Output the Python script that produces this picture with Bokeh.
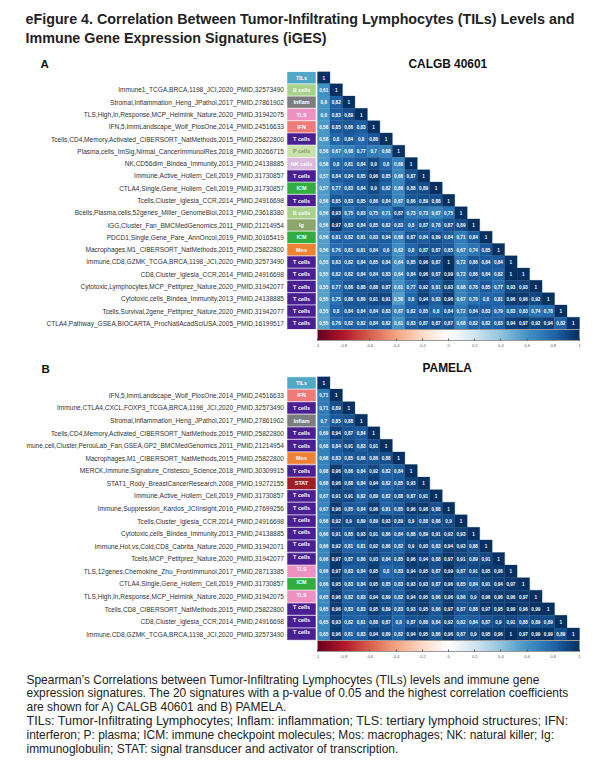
from bokeh.plotting import figure
from bokeh.models import (ColumnDataSource, FactorRange, Range1d, LinearColorMapper, ColorBar,
                          FixedTicker)
from bokeh.layouts import column
from bokeh.core.properties import value
from bokeh.embed import file_html
from bokeh.resources import INLINE

TITLE_LINES = ["eFigure 4. Correlation Between Tumor-Infiltrating Lymphocytes (TILs) Levels and",
               "Immune Gene Expression Signatures (iGES)"]
CAPTION_LINES = [
    "Spearman\u2019s Correlations between Tumor-Infiltrating Lymphocytes (TILs) levels and immune gene",
    "expression signatures. The 20 signatures with a p-value of 0.05 and the highest correlation coefficients",
    "are shown for A) CALGB 40601 and B) PAMELA.",
    "TILs: Tumor-Infiltrating Lymphocytes; Inflam: inflammation; TLS: tertiary lymphoid structures; IFN:",
    "interferon; P: plasma; ICM: immune checkpoint molecules; Mos: macrophages; NK: natural killer; Ig:",
    "immunoglobulin; STAT: signal transducer and activator of transcription.",
]
CAPTION_SIZES = ["11.95px", "11.95px", "11.95px", "12.6px", "11.95px", "11.95px"]

A_LABELS = ["",
    "Immune1_TCGA,BRCA,1198_JCI,2020_PMID,32573490",
    "Stromal,Inflammation_Heng_JPathol,2017_PMID,27861902",
    "TLS,High,In,Response,MCP_Helmink_Nature,2020_PMID,31942075",
    "IFN,5,ImmLandscape_Wolf_PlosOne,2014_PMID,24516633",
    "Tcells,CD4,Memory,Activated_CIBERSORT_NatMethods,2015_PMID,25822800",
    "Plasma,cells_ImSig,Nirmal_CancerImmunolRes,2018_PMID,30266715",
    "NK,CD56dim_Bindea_Immunity,2013_PMID,24138885",
    "Immune,Active_Hollern_Cell,2019_PMID,31730857",
    "CTLA4,Single,Gene_Hollern_Cell,2019_PMID,31730857",
    "Tcells,Cluster_Iglesia_CCR,2014_PMID,24916698",
    "Bcells,Plasma,cells,52genes_Miller_GenomeBiol,2013_PMID,23618380",
    "IGG,Cluster_Fan_BMCMedGenomics,2011_PMID,21214954",
    "PDCD1,Single,Gene_Pare_AnnOncol,2019_PMID,30165419",
    "Macrophages,M1_CIBERSORT_NatMethods,2015_PMID,25822800",
    "Immune,CD8,GZMK_TCGA,BRCA,1198_JCI,2020_PMID,32573490",
    "CD8,Cluster_Iglesia_CCR,2014_PMID,24916698",
    "Cytotoxic,Lymphocytes,MCP_Petitprez_Nature,2020_PMID,31942077",
    "Cytotoxic,cells_Bindea_Immunity,2013_PMID,24138885",
    "Tcells,Survival,2gene_Petitprez_Nature,2020_PMID,31942077",
    "CTLA4,Pathway_GSEA,BIOCARTA_ProcNatlAcadSciUSA,2005_PMID,16199517"]
A_GROUPS = ["TILs", "B cells", "Inflam", "TLS", "IFN", "T cells", "P cells", "NK cells", "T cells", "ICM",
            "T cells", "B cells", "Ig", "ICM", "Mos", "T cells", "T cells", "T cells", "T cells", "T cells", "T cells"]
A_VALUES = [
    [1],
    [.61, 1],
    [.6, .82, 1],
    [.6, .83, .89, 1],
    [.58, .85, .86, .83, 1],
    [.58, .8, .84, .8, .86, 1],
    [.58, .67, .68, .77, .7, .68, 1],
    [.58, .8, .81, .84, .9, .8, .68, 1],
    [.57, .84, .84, .85, .96, .85, .66, .87, 1],
    [.57, .77, .83, .84, .9, .82, .66, .88, .89, 1],
    [.56, .85, .83, .85, .86, .84, .67, .86, .89, .88, 1],
    [.56, .93, .75, .83, .75, .71, .87, .73, .73, .67, .75, 1],
    [.56, .97, .83, .84, .85, .82, .83, .8, .87, .78, .87, .89, 1],
    [.56, .81, .82, .81, .83, .84, .68, .87, .84, .89, .84, .71, .84, 1],
    [.56, .76, .81, .81, .84, .8, .62, .8, .87, .87, .85, .67, .74, .85, 1],
    [.55, .83, .82, .84, .85, .84, .64, .85, .96, .87, 1, .72, .86, .84, .84, 1],
    [.55, .82, .82, .84, .84, .83, .64, .84, .96, .87, .99, .72, .86, .84, .82, 1, 1],
    [.55, .77, .86, .88, .88, .87, .61, .77, .92, .81, .93, .68, .78, .85, .77, .93, .93, 1],
    [.55, .75, .86, .86, .91, .91, .56, .8, .94, .83, .96, .67, .76, .8, .81, .96, .96, .92, 1],
    [.55, .8, .84, .84, .84, .83, .67, .82, .85, .8, .84, .72, .84, .83, .79, .83, .83, .74, .78, 1],
    [.55, .76, .82, .82, .84, .82, .61, .83, .87, .87, .87, .68, .82, .82, .83, .94, .97, .92, .94, .82, 1],
]

B_LABELS = ["",
    "IFN,5,ImmLandscape_Wolf_PlosOne,2014_PMID,24516633",
    "Immune,CTLA4,CXCL,FOXP3_TCGA,BRCA,1198_JCI,2020_PMID,32573490",
    "Stromal,Inflammation_Heng_JPathol,2017_PMID,27861902",
    "Tcells,CD4,Memory,Activated_CIBERSORT_NatMethods,2015_PMID,25822800",
    "mune,cell,Cluster,PerouLab_Fan,GSEA,GP2_BMCMedGenomics,2011_PMID,21214954",
    "Macrophages,M1_CIBERSORT_NatMethods,2015_PMID,25822800",
    "MERCK,Immune,Signature_Cristescu_Science,2018_PMID,30309915",
    "STAT1_Rody_BreastCancerResearch,2008_PMID,19272155",
    "Immune,Active_Hollern_Cell,2019_PMID,31730857",
    "Immune,Suppression_Kardos_JCIInsight,2016_PMID,27699256",
    "Tcells,Cluster_Iglesia_CCR,2014_PMID,24916698",
    "Cytotoxic,cells_Bindea_Immunity,2013_PMID,24138885",
    "Immune,Hot,vs,Cold,CD8_Cabrita_Nature,2020_PMID,31942071",
    "Tcells,MCP_Petitprez_Nature,2020_PMID,31942077",
    "TLS,12genes,Chemokine_Zhu_FrontImmunol,2017_PMID,28713385",
    "CTLA4,Single,Gene_Hollern_Cell,2019_PMID,31730857",
    "TLS,High,In,Response,MCP_Helmink_Nature,2020_PMID,31942075",
    "Tcells,CD8_CIBERSORT_NatMethods,2015_PMID,25822800",
    "CD8,Cluster_Iglesia_CCR,2014_PMID,24916698",
    "Immune,CD8,GZMK_TCGA,BRCA,1198_JCI,2020_PMID,32573490"]
B_GROUPS = ["TILs", "IFN", "T cells", "Inflam", "T cells", "T cells", "Mos", "T cells", "STAT", "T cells", "T cells",
            "T cells", "T cells", "T cells", "T cells", "TLS", "ICM", "TLS", "T cells", "T cells", "T cells"]
B_VALUES = [
    [1],
    [.71, 1],
    [.71, .89, 1],
    [.7, .85, .88, 1],
    [.69, .94, .87, .84, 1],
    [.68, .84, .91, .83, .91, 1],
    [.68, .83, .85, .86, .86, .88, 1],
    [.68, .96, .86, .84, .92, .82, .84, 1],
    [.68, .96, .88, .84, .94, .82, .85, .93, 1],
    [.67, .91, .91, .82, .89, .82, .88, .87, .91, 1],
    [.67, .96, .85, .84, .96, .81, .85, .96, .96, .88, 1],
    [.66, .92, .9, .89, .89, .93, .89, .9, .88, .88, .9, 1],
    [.66, .91, .85, .93, .91, .86, .84, .88, .89, .91, .92, .93, 1],
    [.66, .92, .81, .81, .92, .86, .82, .9, .93, .83, .94, .93, .88, 1],
    [.66, .97, .87, .86, .93, .84, .85, .96, .94, .88, .97, .91, .89, .91, 1],
    [.66, .97, .83, .84, .95, .8, .83, .94, .95, .87, .99, .87, .91, .95, .96, 1],
    [.66, .95, .83, .84, .95, .85, .83, .93, .93, .87, .96, .85, .84, .91, .94, .97, 1],
    [.65, .96, .82, .83, .94, .89, .82, .94, .95, .86, .96, .86, .9, .96, .96, .96, .97, 1],
    [.65, .96, .83, .83, .95, .89, .83, .93, .95, .86, .97, .87, .88, .97, .95, .99, .96, .99, 1],
    [.65, .93, .82, .81, .88, .87, .8, .87, .88, .84, .92, .82, .84, .87, .9, .91, .88, .89, .89, 1],
    [.65, .96, .81, .83, .94, .89, .82, .94, .95, .86, .96, .87, .9, .95, .96, 1, .97, .99, .99, .89, 1],
]

GROUP_FILL = {"TILs": "#4fa8c6", "B cells": "#a8d28c", "Inflam": "#7d7d7d", "TLS": "#ee90c2", "IFN": "#f07a78",
              "T cells": "#4a1f92", "P cells": "#c8e3a8", "NK cells": "#dcb9de", "ICM": "#2fae3e", "Ig": "#8ca66c",
              "Mos": "#ef8333", "STAT": "#a01d26"}
GROUP_TEXT = {"P cells": "#7f9c66"}

CB_TICKS = [-1, -.8, -.6, -.4, -.2, 0, .2, .4, .6, .8, 1]
ANCHORS = ["#67001F", "#B2182B", "#D6604D", "#F4A582", "#FDDBC7", "#FFFFFF",
           "#D1E5F0", "#92C5DE", "#4393C3", "#2166AC", "#053061"]

FIG_W = 596
HEAT_LEFT = 317
CELLS_W = 262


def build_palette(anchors, n=201):
    rgb = [tuple(int(c[i:i + 2], 16) for i in (1, 3, 5)) for c in anchors]
    out = []
    for k in range(n):
        t = k / (n - 1) * (len(rgb) - 1)
        i = min(int(t), len(rgb) - 2)
        f = t - i
        out.append("#%02x%02x%02x" % tuple(round(rgb[i][j] * (1 - f) + rgb[i + 1][j] * f) for j in range(3)))
    return out


PALETTE = build_palette(ANCHORS)
mapper = LinearColorMapper(palette=PALETTE, low=-1, high=1)


def fmt(v):
    return ("%g" % v).replace(".", ",")


def band(height):
    """A text-only strip whose data coordinates run in pixels from its top-left corner."""
    p = figure(width=FIG_W, height=height, output_backend="svg", toolbar_location=None,
               x_range=Range1d(0, FIG_W), y_range=Range1d(height, 0),
               min_border=0, x_axis_location=None, y_axis_location=None)
    p.outline_line_color = None
    p.grid.visible = False
    return p


def put(p, x, y, text, size, bold=False, color="#222222"):
    p.text(x=[x], y=[y], text=[text], text_font=value("Liberation Sans"), text_font_size=size,
           text_font_style="bold" if bold else "normal", text_color=color, text_baseline="middle")


def panel(labels, groups, values, height, frame_h, box_text_shift):
    factors = [(lab if lab else " ") for lab in labels]
    n = len(factors)
    cell_w = CELLS_W / n
    p = figure(width=FIG_W, height=height, output_backend="svg", toolbar_location=None,
               x_range=Range1d(-HEAT_LEFT / cell_w, (FIG_W - HEAT_LEFT) / cell_w),
               y_range=FactorRange(factors=factors[::-1], range_padding=0),
               min_border_left=0, min_border_right=0, min_border_top=0,
               min_border_bottom=height - frame_h, x_axis_location=None, y_axis_location=None)
    p.outline_line_color = None
    p.grid.visible = False

    rows = ColumnDataSource(dict(x=[-33.5 / cell_w] * n, y=factors, t=labels))
    p.text("x", "y", text="t", source=rows, text_color="#333333", text_font=value("Liberation Sans"),
           text_font_size="6.55px", text_align="right", text_baseline="middle")

    xs, ys, vs, ts = [], [], [], []
    for r, row in enumerate(values):
        for c, v in enumerate(row):
            xs.append(c + .5)
            ys.append(factors[r])
            vs.append(v)
            ts.append(fmt(v))
    src = ColumnDataSource(dict(x=xs, y=ys, v=vs, t=ts))
    fill = {"field": "v", "transform": mapper}
    p.rect("x", "y", width=1, height=1, source=src, fill_color=fill, line_color=fill, line_width=.3)
    p.text("x", "y", text="t", source=src, text_color="white", text_font=value("Liberation Sans"),
           text_font_style="bold", text_font_size="4.6px", text_align="center", text_baseline="middle")

    box = ColumnDataSource(dict(
        x=[-16 / cell_w] * n, y=factors, g=groups, dy=box_text_shift,
        f=[GROUP_FILL[g] for g in groups], tc=[GROUP_TEXT.get(g, "white") for g in groups]))
    p.rect("x", "y", width=28 / cell_w, height=.9, source=box, fill_color="f", line_color="f", line_width=.5)
    p.text("x", "y", text="g", y_offset="dy", source=box, text_color="tc", text_font=value("Liberation Sans"),
           text_font_style="bold", text_font_size="5.4px", text_align="center", text_baseline="middle")

    cb = ColorBar(color_mapper=mapper, width=CELLS_W, height=11, location=(HEAT_LEFT, 0), padding=0, margin=5,
                  ticker=FixedTicker(ticks=CB_TICKS),
                  major_label_overrides={t: fmt(t) for t in CB_TICKS},
                  major_label_text_font="Liberation Sans", major_label_text_font_size="4px",
                  major_label_text_color="#555555", label_standoff=3,
                  major_tick_line_color="#555555", major_tick_in=2, major_tick_out=0,
                  bar_line_color="#999999", bar_line_width=1, border_line_color=None)
    p.add_layout(cb, "below")
    return p


head = band(71)
put(head, 25, 18, TITLE_LINES[0], "14.3px", bold=True)
put(head, 25, 37, TITLE_LINES[1], "14.3px", bold=True)
put(head, 40, 63.5, "A", "11.5px", bold=True, color="#111111")
put(head, 408, 63.5, "CALGB 40601", "11.9px", bold=True, color="#111111")

pa = panel(A_LABELS, A_GROUPS, A_VALUES, 284, 258, [0] * 21)

mid = band(21)
put(mid, 41, 13, "B", "11.5px", bold=True, color="#111111")
put(mid, 422, 12.5, "PAMELA", "11.9px", bold=True, color="#111111")

pb = panel(B_LABELS, B_GROUPS, B_VALUES, 289, 264, [0] * 9 + [-1] * 3 + [-2] * 9)

foot = band(95)
for i, line in enumerate(CAPTION_LINES):
    put(foot, 26, 14 + i * 13.8, line, CAPTION_SIZES[i])

page = column(head, pa, mid, pb, foot, spacing=0)
open("out.html", "w").write(file_html(page, INLINE))
